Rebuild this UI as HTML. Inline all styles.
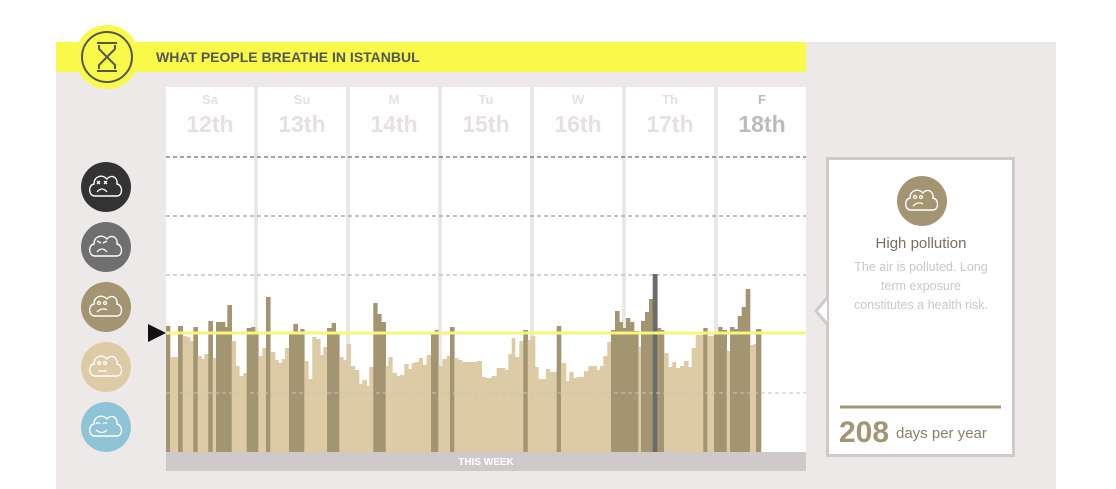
<!DOCTYPE html>
<html><head><meta charset="utf-8"><style>
body{margin:0;width:1116px;height:489px;background:#fff;overflow:hidden;font-family:"Liberation Sans",sans-serif}
</style></head><body>
<svg width="1116" height="489" xmlns="http://www.w3.org/2000/svg" style="position:absolute;left:0;top:0">
<defs>
<path id="cl" fill="none" stroke="#fff" stroke-width="1.4" d="M-11,9 C-18,9 -18,-2 -12,-3 C-12,-11 -4,-13 1,-8 C5,-13 12,-10 11,-3 C17,-2 17,9 11,9 Z"/>
</defs>
<rect x="56" y="42" width="1000" height="447" fill="#eee9e9"/>
<rect x="56" y="42" width="750" height="30" fill="#f9f94a"/>
<circle cx="107" cy="57" r="32" fill="#f9f94a"/>
<circle cx="107" cy="57" r="25" fill="none" stroke="#555" stroke-width="2"/>
<g stroke="#555" stroke-width="2" fill="none"><line x1="97" y1="43" x2="117" y2="43"/><line x1="97" y1="71" x2="117" y2="71"/><path d="M99,45 L99,49 L107,57 L99,65 L99,69 M115,45 L115,49 L107,57 L115,65 L115,69"/></g>
<text x="156" y="62" font-size="14" font-weight="bold" fill="#555">WHAT PEOPLE BREATHE IN ISTANBUL</text>
<rect x="166" y="87" width="640" height="365" fill="#fff"/>
<g fill="#ebe7e7"><rect x="254" y="87" width="4" height="365"/><rect x="346" y="87" width="4" height="365"/><rect x="438" y="87" width="4" height="365"/><rect x="530" y="87" width="4" height="365"/><rect x="622" y="87" width="4" height="365"/><rect x="714" y="87" width="4" height="365"/></g>
<g font-size="13" font-weight="bold" fill="#e6e0e0" text-anchor="middle"><text x="210" y="104">Sa</text><text x="302" y="104">Su</text><text x="394" y="104">M</text><text x="486" y="104">Tu</text><text x="578" y="104">W</text><text x="670" y="104">Th</text><text x="762" y="104" fill="#bbb">F</text></g>
<g font-size="23" font-weight="bold" fill="#e6e0e0" text-anchor="middle"><text x="210" y="132">12th</text><text x="302" y="132">13th</text><text x="394" y="132">14th</text><text x="486" y="132">15th</text><text x="578" y="132">16th</text><text x="670" y="132">17th</text><text x="762" y="132" fill="#bbb">18th</text></g>
<line x1="166" y1="157" x2="806" y2="157" stroke="#444" stroke-dasharray="4,3"/>
<line x1="166" y1="216" x2="806" y2="216" stroke="#888" stroke-dasharray="4,3"/>
<line x1="166" y1="275" x2="806" y2="275" stroke="#aaa" stroke-dasharray="4,3"/>
<g id="bars"></g>
<line x1="166" y1="393" x2="806" y2="393" stroke="#c9c4bc" stroke-dasharray="4,3"/>
<line x1="166" y1="333" x2="806" y2="333" stroke="#f6f67a" stroke-width="3"/>
<path d="M148,324 L166,333 L148,342 Z" fill="#111"/>
<rect x="166" y="452" width="640" height="19" fill="#cfc9c9"/>
<text x="486" y="465" font-size="10" font-weight="bold" fill="#fff" text-anchor="middle">THIS WEEK</text>
<g stroke="#fff" stroke-width="1.3" fill="none">
<circle cx="106" cy="187" r="25" fill="#333" stroke="none"/><use href="#cl" x="106" y="187"/><path d="M97,181 l3,3 m0,-3 l-3,3 M104,181 l3,3 m0,-3 l-3,3 M97,192 q5,-6 10,0"/>
<circle cx="106" cy="247" r="25" fill="#6f6f6f" stroke="none"/><use href="#cl" x="106" y="247"/><path d="M97,241 l4,2 M107,241 l-4,2 M97,252 q5,-6 10,0"/>
<circle cx="106" cy="307" r="25" fill="#a39472" stroke="none"/><use href="#cl" x="106" y="307"/><circle cx="99" cy="303" r="1.5"/><circle cx="105" cy="303" r="1.5"/><path d="M97,312 q5,-5 10,-2"/>
<circle cx="106" cy="367" r="25" fill="#dccba4" stroke="none"/><use href="#cl" x="106" y="367"/><circle cx="99" cy="363" r="1.5"/><circle cx="105" cy="363" r="1.5"/><path d="M98,371 h9"/>
<circle cx="106" cy="427" r="25" fill="#8fc3d6" stroke="none"/><use href="#cl" x="106" y="427"/><path d="M96,424 q2,-3 4,0 M103,424 q2,-3 4,0 M96,430 q6,5 11,0"/>
</g>
<rect x="827.5" y="158.5" width="186" height="297" fill="#fff" stroke="#cfc9c9" stroke-width="3"/>
<path d="M827,298 L816,311 L827,324" fill="#fff" stroke="#cfc9c9" stroke-width="3"/>
<g stroke="#fff" stroke-width="1.3" fill="none">
<circle cx="922" cy="201" r="25" fill="#a39472" stroke="none"/><use href="#cl" x="922" y="201"/><circle cx="915" cy="197" r="1.5"/><circle cx="921" cy="197" r="1.5"/><path d="M913,206 q5,-5 10,-2"/>
</g>
<text x="921" y="248" font-size="15" fill="#7a6f5c" text-anchor="middle">High pollution</text>
<g font-size="12.5" fill="#ccc6c6" text-anchor="middle"><text x="921" y="271">The air is polluted. Long</text><text x="921" y="290">term exposure</text><text x="921" y="309">constitutes a health risk.</text></g>
<line x1="840" y1="407" x2="1001" y2="407" stroke="#a39472" stroke-width="3"/>
<text x="839" y="442" font-size="30" font-weight="bold" fill="#a39472">208</text>
<text x="896" y="438" font-size="15" fill="#8a7f6a">days per year</text>
</svg>
<script>
var d=[[166,170,326,'d'],[170,178,357,'l'],[178,182.7,326,'d'],[182.7,186.7,336,'l'],[186.7,190,337,'l'],[190,193.3,341,'l'],[193.3,197.7,327,'d'],[197.7,201.7,356,'l'],[201.7,204.3,359,'l'],[204.3,208.3,354,'l'],[208.3,212.7,321,'d'],[212.7,216,358,'l'],[216,225,322,'d'],[225,227.3,327,'d'],[227.3,231.7,305,'d'],[231.7,235.7,341,'l'],[235.7,239.3,366,'l'],[239.3,243.3,376,'l'],[243.3,246.7,373,'l'],[246.7,251,328,'d'],[251,255,327,'d'],[255,258.3,332,'d'],[258.3,262.3,356,'l'],[262.3,266,348,'l'],[266,270.3,297,'d'],[270.3,275,352,'l'],[275,278.3,360,'l'],[278.3,281.7,363,'l'],[281.7,285,359,'l'],[285,289,348,'l'],[289,293.3,332,'d'],[293.3,297.7,324,'d'],[297.7,300.3,332,'d'],[300.3,304.3,329,'d'],[304.3,308.3,361,'l'],[308.3,312.3,379,'l'],[312.3,316,337,'l'],[316,320.3,339,'l'],[320.3,323.3,355,'l'],[323.3,327,347,'l'],[327,331.7,328,'d'],[331.7,335.7,323,'d'],[335.7,339.3,332,'d'],[339.3,343.3,357,'l'],[343.3,346.7,360,'l'],[346.7,350.7,344,'l'],[350.7,355,366,'l'],[355,359,370,'l'],[359,362.3,384,'l'],[362.3,366.7,380,'l'],[366.7,369.3,386,'l'],[369.3,373.3,367,'l'],[373.3,377.3,303,'d'],[377.3,381.3,314,'d'],[381.3,385.7,322,'d'],[385.7,388.3,366,'l'],[388.3,392.3,357,'l'],[392.3,396.7,373,'l'],[396.7,400,376,'l'],[400,404.3,375,'l'],[404.3,408.3,364,'l'],[408.3,411.7,369,'l'],[411.7,415,363,'l'],[415,419,362,'l'],[419,422.7,358,'l'],[422.7,426.7,365,'l'],[426.7,431,355,'l'],[431,435,332,'d'],[435,438.3,330,'d'],[438.3,442.3,366,'l'],[442.3,446.7,359,'l'],[446.7,450,356,'l'],[450,454.3,327,'d'],[454.3,458.3,358,'l'],[458.3,461.7,360,'l'],[461.7,476.7,362,'l'],[476.7,481.7,361,'l'],[481.7,485,377,'l'],[485,491.7,378,'l'],[491.7,496.7,376,'l'],[496.7,505,368,'l'],[505,508.3,370,'l'],[508.3,511.7,354,'l'],[511.7,515,338,'l'],[515,519.3,357,'l'],[519.3,523.3,341,'l'],[523.3,527.7,330,'d'],[527.7,530.7,340,'l'],[530.7,535,336,'l'],[535,538.3,367,'l'],[538.3,546,379,'l'],[546,550,369,'l'],[550,556.7,372,'l'],[556.7,561,326,'d'],[561,566,363,'l'],[566,569.3,381,'l'],[569.3,573.3,372,'l'],[573.3,576.7,378,'l'],[576.7,584,377,'l'],[584,588.3,371,'l'],[588.3,596.7,366,'l'],[596.7,600,370,'l'],[600,603.3,366,'l'],[603.3,607.3,356,'l'],[607.3,611,342,'l'],[611,615,330,'d'],[615,619.3,311,'d'],[619.3,622.7,322,'d'],[622.7,626,328,'d'],[626,630,318,'d'],[630,634,322,'d'],[634,638.3,331,'d'],[638.3,641,347,'l'],[641,645,321,'d'],[645,649,312,'d'],[649,652.7,299,'d'],[652.7,657.3,274,'g'],[657.3,661,328,'d'],[661,664,330,'d'],[664,668.3,353,'l'],[668.3,672.3,367,'l'],[672.3,675.7,362,'l'],[675.7,680,368,'l'],[680,684,366,'l'],[684,688.3,361,'l'],[688.3,691.7,367,'l'],[691.7,695.7,348,'l'],[695.7,703.3,335,'l'],[703.3,707.3,328,'d'],[707.3,714,336,'l'],[714,718.3,332,'d'],[718.3,722.3,327,'d'],[722.3,726.7,330,'d'],[726.7,730,351,'l'],[730,734.3,327,'d'],[734.3,737.7,329,'d'],[737.7,741.7,316,'d'],[741.7,745.7,307,'d'],[745.7,750,289,'d'],[750,753.3,345,'l'],[753.3,756,344,'l'],[756,761,329,'d']];
var c={d:'#a39472',l:'#dccba4',g:'#6b6b6b'},s='';
d.forEach(function(b){s+='<rect x="'+b[0]+'" y="'+b[2]+'" width="'+(b[1]-b[0]+0.3)+'" height="'+(452-b[2])+'" fill="'+c[b[3]]+'"/>';});
document.getElementById('bars').innerHTML=s;
</script>
</body></html>
